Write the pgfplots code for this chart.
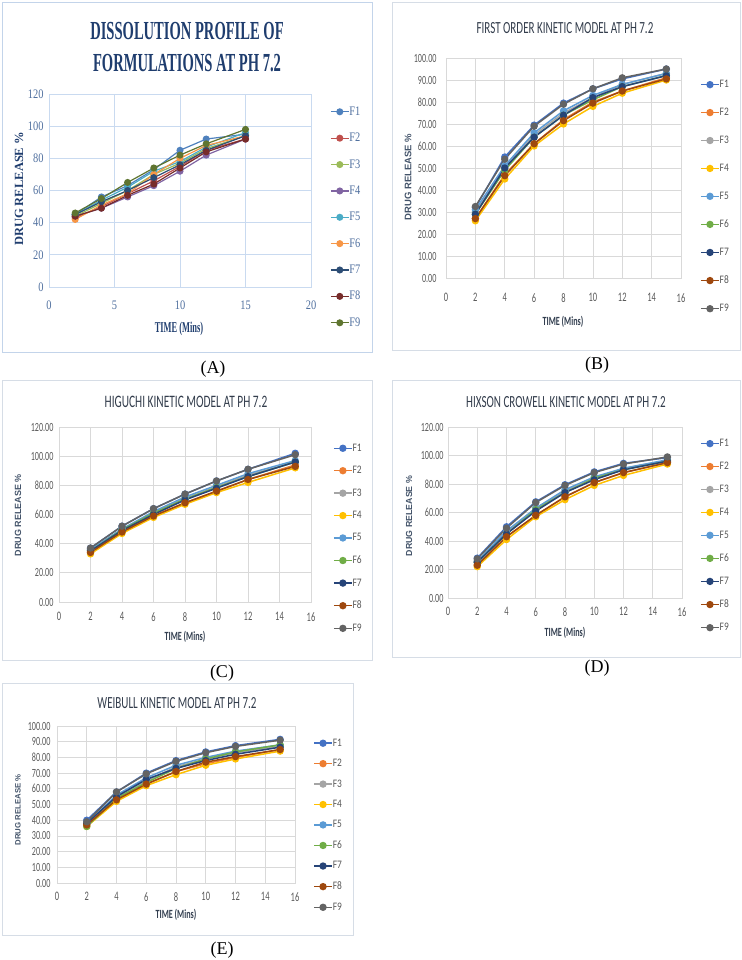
\documentclass[border=0pt]{standalone}
\usepackage{fontspec}
\setmainfont{Liberation Serif}
\newfontfamily\ATitle[FakeStretch=0.56]{Liberation Serif}
\newfontfamily\Acond[FakeStretch=0.8]{Liberation Serif}
\newfontfamily\calS[FakeStretch=0.65]{Carlito}
\newfontfamily\calL[FakeStretch=0.82]{Carlito}
\newfontfamily\lsans{Liberation Sans}
\usepackage{pgfplots}
\pgfplotsset{compat=1.18}
\usepackage{pgfplotstable}

\definecolor{aF1}{HTML}{4F81BD}\definecolor{aF2}{HTML}{C0504D}\definecolor{aF3}{HTML}{9BBB59}
\definecolor{aF4}{HTML}{8064A2}\definecolor{aF5}{HTML}{4BACC6}\definecolor{aF6}{HTML}{F79646}
\definecolor{aF7}{HTML}{2C4D75}\definecolor{aF8}{HTML}{772C2A}\definecolor{aF9}{HTML}{5F7530}
\definecolor{bF1}{HTML}{4472C4}\definecolor{bF2}{HTML}{ED7D31}\definecolor{bF3}{HTML}{A5A5A5}
\definecolor{bF4}{HTML}{FFC000}\definecolor{bF5}{HTML}{5B9BD5}\definecolor{bF6}{HTML}{70AD47}
\definecolor{bF7}{HTML}{264478}\definecolor{bF8}{HTML}{9E480E}\definecolor{bF9}{HTML}{636363}
\definecolor{gridA}{HTML}{C9DAF0}
\definecolor{gridB}{HTML}{D9D9D9}
\definecolor{frameA}{HTML}{C3D4EA}
\definecolor{frameB}{HTML}{D6DDE6}
\definecolor{Atitle}{HTML}{1F3D6E}
\definecolor{Atick}{HTML}{4F6F9E}
\definecolor{Btitle}{HTML}{333D4C}
\definecolor{Btick}{HTML}{595959}
\definecolor{Bylab}{HTML}{44546A}
\definecolor{Bxlab}{HTML}{333F50}

\pgfplotstableread{
x F1 F2 F3 F4 F5 F6 F7 F8 F9
2 45 43 44 44 45 42 45 44 46
4 56 50 52 49 54 51 53 49 55
6 63 58 60 56 62 58 60 57 65
8 73 66 70 63 72 70 68 64 74
10 85 75 77 72 78 80 76 74 82
12 92 85 86 82 87 88 85 84 89
15 95 92 94 92 96 94 94 92 98
}\tabA
\pgfplotstableread{
x F1 F2 F3 F4 F5 F6 F7 F8 F9
2 32 27 30 26 31 29 29 27 32.5
4 55 47 50 45 51 49 50 46.5 54
6 69.5 61 65 60 66 64 64 61 69
8 79.5 72 75 70 76 74 74 71.5 79
10 86 80 82 78 83 81 82 79.5 86
12 90.5 85 88 84 88 87 87 85 91
15 95 91 93 90 93 92 92 90.5 95
}\tabB
\pgfplotstableread{
x F1 F2 F3 F4 F5 F6 F7 F8 F9
2 37 34 35.5 33 36 35 35 34 37
4 52 48 50 47 50 49.5 49 48 52
6 64 59 61 58 62 61 60 59 64
8 74 68 71 67 72 70.5 70 68 74
10 83 76 79 75 80 78.5 78 76 83
12 91 84 87 82 88 86 86 84 91
15 102 94 96 92 97 96 96 93 101
}\tabC
\pgfplotstableread{
x F1 F2 F3 F4 F5 F6 F7 F8 F9
2 28 23 25.5 22 26 25 25 23 27.5
4 50 43 46 41 47 45 45 43 49
6 67.5 58 63 57 63 62 61 58 67
8 79.5 71 75 69 76 74 74 71 79
10 88.5 81 84 79 85 84 83 81 88
12 94.5 88 91 86 91 90 90 88 94
15 98.5 95 96.5 94 97 96 96 95 99
}\tabD
\pgfplotstableread{
x F1 F2 F3 F4 F5 F6 F7 F8 F9
2 40 37 38 36 38 36 38 37 39
4 58 53 55 52 56 54 55 53 58
6 70 63 65 62 67 64 66 63 69.5
8 78 71 74 69 75 73 73 71 77.5
10 83.5 76 79 75 80 79 78 77 83
12 87.5 80 83 79 84 83.5 82 80.5 87
15 91.5 85 87 84 88 88 86.5 85 91
}\tabE

\pgfplotscreateplotcyclelist{Alist}{
{aF1,mark=*},{aF2,mark=*},{aF3,mark=*},{aF4,mark=*},{aF5,mark=*},{aF6,mark=*},{aF7,mark=*},{aF8,mark=*},{aF9,mark=*}}
\pgfplotscreateplotcyclelist{Blist}{
{bF1,mark=*},{bF2,mark=*},{bF3,mark=*},{bF4,mark=*},{bF5,mark=*},{bF6,mark=*},{bF7,mark=*},{bF8,mark=*},{bF9,mark=*}}

\pgfplotsset{
  common/.style={scale only axis, xmin=0, ymin=0, grid=major,
    tick style={draw=none}, axis line style={draw=#1, line width=0.7bp},
    major grid style={draw=#1, line width=0.7bp},
    /pgf/number format/assume math mode=true,
    every axis plot/.append style={line width=1.5bp, mark size=2.9bp},
    legend cell align=left,
    legend image code/.code={\draw[mark repeat=2,mark phase=2] plot coordinates {(0bp,0bp)(9bp,0bp)(18bp,0bp)};}},
  kin/.style={common=gridB, xmax=16, xtick={0,2,...,16}, cycle list name=Blist,
    yticklabel style={/pgf/number format/fixed, /pgf/number format/fixed zerofill, /pgf/number format/precision=2,
      font=\calS\fontsize{12.5bp}{14bp}\selectfont, text=Btick},
    xticklabel style={font=\calS\fontsize{13bp}{15bp}\selectfont, text=Btick},
    legend style={anchor=north west, draw=none, fill=none, inner sep=0pt,
      font=\calL\fontsize{11.5bp}{13bp}\selectfont, text=Btick, nodes={inner sep=0pt}}},
}

\begin{document}
\begin{tikzpicture}
% frames
\draw[frameA, line width=0.8bp] (2bp,-2bp) rectangle (372bp,-352bp);
\draw[frameB, line width=0.8bp] (392bp,-2bp) rectangle (740bp,-350bp);
\draw[frameB, line width=0.8bp] (2bp,-380bp) rectangle (372bp,-660bp);
\draw[frameB, line width=0.8bp] (392bp,-380bp) rectangle (740bp,-657bp);
\draw[frameB, line width=0.8bp] (2bp,-683bp) rectangle (353bp,-935bp);

% ---------- A
\begin{axis}[common=gridA, at={(49bp,-287bp)}, anchor=south west, width=262bp, height=193bp,
  xmax=20, ymax=120, xtick={0,5,...,20}, ytick={0,20,...,120}, cycle list name=Alist,
  every axis plot/.append style={line width=1.2bp},
  tick label style={font=\Acond\fontsize{13bp}{15bp}\selectfont, text=Atick},
  xticklabel style={yshift=-10bp}, yticklabel style={xshift=-2bp},
  legend style={at={(1.0725,0.935)}, anchor=north west, draw=none, fill=none, inner sep=0pt,
    row sep=16.3bp, font=\Acond\fontsize{13bp}{15bp}\selectfont, text=Atick, nodes={inner sep=0pt}}]
\pgfplotsinvokeforeach{1,...,9}{\addplot table[x=x,y=F#1]{\tabA};}
\legend{F1,F2,F3,F4,F5,F6,F7,F8,F9}
\end{axis}
\node[font=\ATitle\bfseries\fontsize{26bp}{32bp}\selectfont, text=Atitle, align=center] at (187bp,-47bp) {DISSOLUTION PROFILE OF\\FORMULATIONS AT PH 7.2};
\node[font=\bfseries\fontsize{12.5bp}{14bp}\selectfont, text=Atitle, rotate=90] at (19bp,-189bp) {DRUG RELEASE \%};
\node[font=\ATitle\bfseries\fontsize{15bp}{17bp}\selectfont, text=Atitle] at (179bp,-329bp) {TIME (Mins)};
\node[font=\fontsize{18bp}{20bp}\selectfont] at (213bp,-369bp) {(A)};

% ---------- B
\begin{axis}[kin, at={(446bp,-278bp)}, anchor=south west, width=235bp, height=220bp,
  ymax=100, ytick={0,10,...,100},
  xticklabel style={yshift=-12bp}, yticklabel style={xshift=-6bp},
  legend style={at={(1.081,0.9)}, row sep=19bp}]
\pgfplotsinvokeforeach{1,...,9}{\addplot table[x=x,y=F#1]{\tabB};}
\legend{F1,F2,F3,F4,F5,F6,F7,F8,F9}
\end{axis}
\node[font=\calS\fontsize{17bp}{19bp}\selectfont, text=Btitle] at (565bp,-28bp) {FIRST ORDER KINETIC MODEL AT PH 7.2};
\node[font=\lsans\bfseries\fontsize{9.5bp}{11bp}\selectfont, text=Bylab, rotate=90] at (408bp,-177bp) {DRUG RELEASE \%};
\node[font=\calS\bfseries\fontsize{12.5bp}{14bp}\selectfont, text=Bxlab] at (563bp,-322bp) {TIME (Mins)};
\node[font=\fontsize{18bp}{20bp}\selectfont] at (597bp,-365bp) {(B)};

% ---------- C
\begin{axis}[kin, at={(59bp,-602bp)}, anchor=south west, width=252bp, height=175bp,
  ymax=120, ytick={0,20,...,120},
  xticklabel style={yshift=-7bp}, yticklabel style={xshift=-2bp},
  legend style={at={(1.087,0.905)}, row sep=13.5bp}]
\pgfplotsinvokeforeach{1,...,9}{\addplot table[x=x,y=F#1]{\tabC};}
\legend{F1,F2,F3,F4,F5,F6,F7,F8,F9}
\end{axis}
\node[font=\calS\fontsize{17.5bp}{19bp}\selectfont, text=Btitle] at (186bp,-402bp) {HIGUCHI KINETIC MODEL AT PH 7.2};
\node[font=\lsans\bfseries\fontsize{9bp}{11bp}\selectfont, text=Bylab, rotate=90] at (18bp,-515bp) {DRUG RELEASE \%};
\node[font=\calS\bfseries\fontsize{12.5bp}{14bp}\selectfont, text=Bxlab] at (185bp,-637bp) {TIME (Mins)};
\node[font=\fontsize{18bp}{20bp}\selectfont] at (222bp,-673bp) {(C)};

% ---------- D
\begin{axis}[kin, at={(448bp,-598bp)}, anchor=south west, width=234bp, height=171bp,
  ymax=120, ytick={0,20,...,120},
  xticklabel style={yshift=-6bp}, yticklabel style={xshift=-1bp},
  legend style={at={(1.077,0.93)}, row sep=14bp}]
\pgfplotsinvokeforeach{1,...,9}{\addplot table[x=x,y=F#1]{\tabD};}
\legend{F1,F2,F3,F4,F5,F6,F7,F8,F9}
\end{axis}
\node[font=\calS\fontsize{17bp}{19bp}\selectfont, text=Btitle] at (566bp,-402bp) {HIXSON CROWELL KINETIC MODEL AT PH 7.2};
\node[font=\lsans\bfseries\fontsize{8.8bp}{10bp}\selectfont, text=Bylab, rotate=90] at (409bp,-516bp) {DRUG RELEASE \%};
\node[font=\calS\bfseries\fontsize{12.5bp}{14bp}\selectfont, text=Bxlab] at (565bp,-633bp) {TIME (Mins)};
\node[font=\fontsize{18bp}{20bp}\selectfont] at (597bp,-668bp) {(D)};

% ---------- E
\begin{axis}[kin, at={(57bp,-883bp)}, anchor=south west, width=238bp, height=157bp,
  ymax=100, ytick={0,10,...,100},
  xticklabel style={yshift=-6bp}, yticklabel style={xshift=-3bp},
  legend style={at={(1.076,0.92)}, row sep=11.5bp}]
\pgfplotsinvokeforeach{1,...,9}{\addplot table[x=x,y=F#1]{\tabE};}
\legend{F1,F2,F3,F4,F5,F6,F7,F8,F9}
\end{axis}
\node[font=\calS\fontsize{17bp}{19bp}\selectfont, text=Btitle] at (177bp,-703bp) {WEIBULL KINETIC MODEL AT PH 7.2};
\node[font=\lsans\bfseries\fontsize{7.8bp}{9bp}\selectfont, text=Bylab, rotate=90] at (18bp,-810bp) {DRUG RELEASE \%};
\node[font=\calS\bfseries\fontsize{12.5bp}{14bp}\selectfont, text=Bxlab] at (176bp,-915bp) {TIME (Mins)};
\node[font=\fontsize{18bp}{20bp}\selectfont] at (222bp,-950bp) {(E)};

\pgfresetboundingbox
\path[use as bounding box] (0bp,0bp) rectangle (742bp,-960bp);
\end{tikzpicture}
\end{document}
